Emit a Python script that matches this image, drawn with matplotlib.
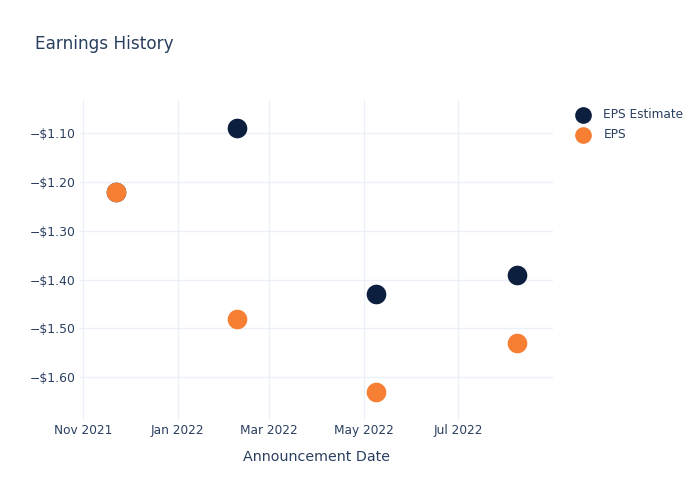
import matplotlib
matplotlib.use("Agg")
import matplotlib.pyplot as plt
import matplotlib.dates as mdates
from matplotlib.ticker import FuncFormatter, FixedLocator
import datetime as dt

dates = ["2021-11-22", "2022-02-08", "2022-05-09", "2022-08-08"]
eps_estimate = [-1.22, -1.09, -1.43, -1.39]
eps_actual = [-1.22, -1.48, -1.63, -1.53]
y_ticks = [-1.10, -1.20, -1.30, -1.40, -1.50, -1.60]

x = [dt.datetime.strptime(d, "%Y-%m-%d") for d in dates]

text_color = "#2a3f5f"
grid_color = "#ebf0f8"
navy = "#0c1f3f"
orange = "#f67f34"

plt.rcParams["font.family"] = ["DejaVu Sans"]

fig = plt.figure(figsize=(7, 5), dpi=100)
ax = fig.add_axes([80 / 700, 80 / 500, (553 - 80) / 700, (420 - 100) / 500])

ax.scatter(x, eps_estimate, s=200, color=navy, label="EPS Estimate", zorder=3, linewidths=0)
ax.scatter(x, eps_actual, s=200, color=orange, label="EPS", zorder=4, linewidths=0)

ax.set_xlim(dt.datetime(2021, 10, 30), dt.datetime(2022, 8, 31))
ax.set_ylim(-1.688, -1.032)

ax.xaxis.set_major_locator(mdates.MonthLocator(bymonth=[1, 3, 5, 7, 9, 11]))
ax.xaxis.set_major_formatter(mdates.DateFormatter("%b %Y"))
ax.yaxis.set_major_locator(FixedLocator(y_ticks))
ax.yaxis.set_major_formatter(FuncFormatter(lambda v, p: ("\u2212$%.2f" % abs(v)) if v < 0 else "$%.2f" % v))

for s in ax.spines.values():
    s.set_visible(False)
ax.grid(True, color=grid_color, linewidth=1)
ax.set_axisbelow(True)
ax.tick_params(axis="x", length=0, labelsize=8.7, labelcolor=text_color, pad=3)
ax.tick_params(axis="y", length=0, labelsize=8.9, labelcolor=text_color, pad=3)

ax.set_xlabel("Announcement Date", fontsize=10.3, color=text_color, labelpad=9)

fig.text(35 / 700, 1 - 44 / 500, "Earnings History", fontsize=12.2, color=text_color, va="center", ha="left")

leg = ax.legend(loc="upper left", bbox_to_anchor=(566 / 700, 1 - 103 / 500), bbox_transform=fig.transFigure,
                frameon=False, fontsize=8.7, labelcolor=text_color, handletextpad=0.7,
                labelspacing=0.6, borderaxespad=0, markerscale=0.85)

fig.savefig("out.png", dpi=100)
